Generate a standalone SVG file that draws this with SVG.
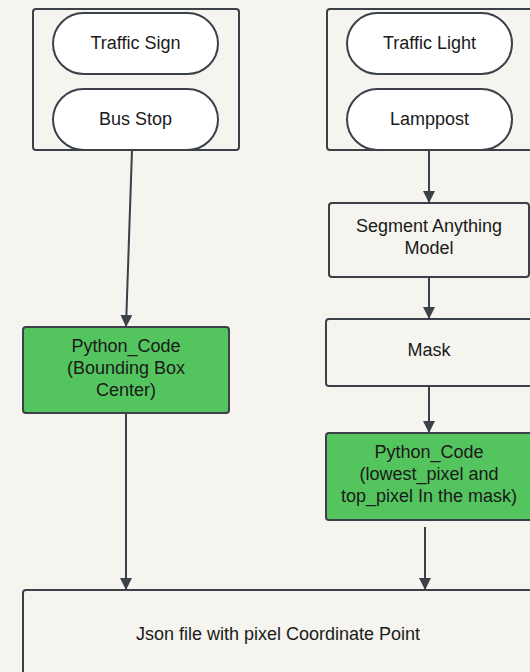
<svg xmlns="http://www.w3.org/2000/svg" width="530" height="672" viewBox="0 0 530 672">
  <style>
    .bg { fill: #f5f4ee; }
    .frame { fill: none; stroke: #3b4049; stroke-width: 2; }
    .pill { fill: #ffffff; stroke: #3b4049; stroke-width: 2; }
    .box { fill: #f5f4ee; stroke: #3b4049; stroke-width: 2; }
    .code { fill: #54c45e; stroke: #3b4049; stroke-width: 2; }
    .edge { fill: none; stroke: #3b4049; stroke-width: 2; }
    text { font-family: "Liberation Sans", Arial, sans-serif; font-size: 18px; fill: #1a1a1a; text-anchor: middle; dominant-baseline: central; }
  </style>
  <defs>
    <marker id="arrow" viewBox="0 0 12 12" markerWidth="12" markerHeight="12" refX="12" refY="6" markerUnits="userSpaceOnUse" orient="auto">
      <path d="M0,0 L12,6 L0,12 Z" fill="#3b4049"/>
    </marker>
  </defs>

  <rect class="bg" x="0" y="0" width="530" height="672"/>

  <!-- left group of objects -->
  <g id="group-left">
    <rect class="frame" x="33" y="9" width="206" height="141" rx="3"/>
  </g>
  <g id="traffic-sign">
    <rect class="pill" x="53" y="13" width="165" height="61" rx="30.5"/>
    <text x="135.5" y="43">Traffic Sign</text>
  </g>
  <g id="bus-stop">
    <rect class="pill" x="53" y="89" width="165" height="61" rx="30.5"/>
    <text x="135.5" y="119">Bus Stop</text>
  </g>

  <!-- right group of objects -->
  <g id="group-right">
    <rect class="frame" x="327" y="9" width="210" height="141" rx="3"/>
  </g>
  <g id="traffic-light">
    <rect class="pill" x="347" y="13" width="165" height="61" rx="30.5"/>
    <text x="429.5" y="43">Traffic Light</text>
  </g>
  <g id="lamppost">
    <rect class="pill" x="347" y="89" width="165" height="61" rx="30.5"/>
    <text x="429.5" y="119">Lamppost</text>
  </g>

  <g id="sam">
    <rect class="box" x="329" y="203" width="200" height="74" rx="3"/>
    <text x="429" y="226">Segment Anything</text>
    <text x="429" y="248">Model</text>
  </g>

  <g id="mask">
    <rect class="box" x="326" y="319" width="210" height="67" rx="3"/>
    <text x="429" y="350">Mask</text>
  </g>

  <g id="code-bbox">
    <rect class="code" x="23" y="327" width="206" height="86" rx="3"/>
    <text x="126" y="346">Python_Code</text>
    <text x="126" y="368">(Bounding Box</text>
    <text x="126" y="390">Center)</text>
  </g>

  <g id="code-mask">
    <rect class="code" x="326" y="433" width="210" height="87" rx="3"/>
    <text x="429" y="452">Python_Code</text>
    <text x="429" y="474">(lowest_pixel and</text>
    <text x="429" y="496">top_pixel In the mask)</text>
  </g>

  <g id="json-output">
    <rect class="box" x="23" y="590" width="520" height="100" rx="3"/>
    <text x="278" y="634">Json file with pixel Coordinate Point</text>
  </g>

  <!-- connectors -->
  <g id="connectors">
    <path class="edge" d="M132,150 L126,327" marker-end="url(#arrow)"/>
    <path class="edge" d="M126,413 L126,590" marker-end="url(#arrow)"/>
    <path class="edge" d="M429,150 L429,203" marker-end="url(#arrow)"/>
    <path class="edge" d="M429,277 L429,319" marker-end="url(#arrow)"/>
    <path class="edge" d="M429,386 L429,433" marker-end="url(#arrow)"/>
    <path class="edge" d="M425,527 L425,590" marker-end="url(#arrow)"/>
  </g>
</svg>
